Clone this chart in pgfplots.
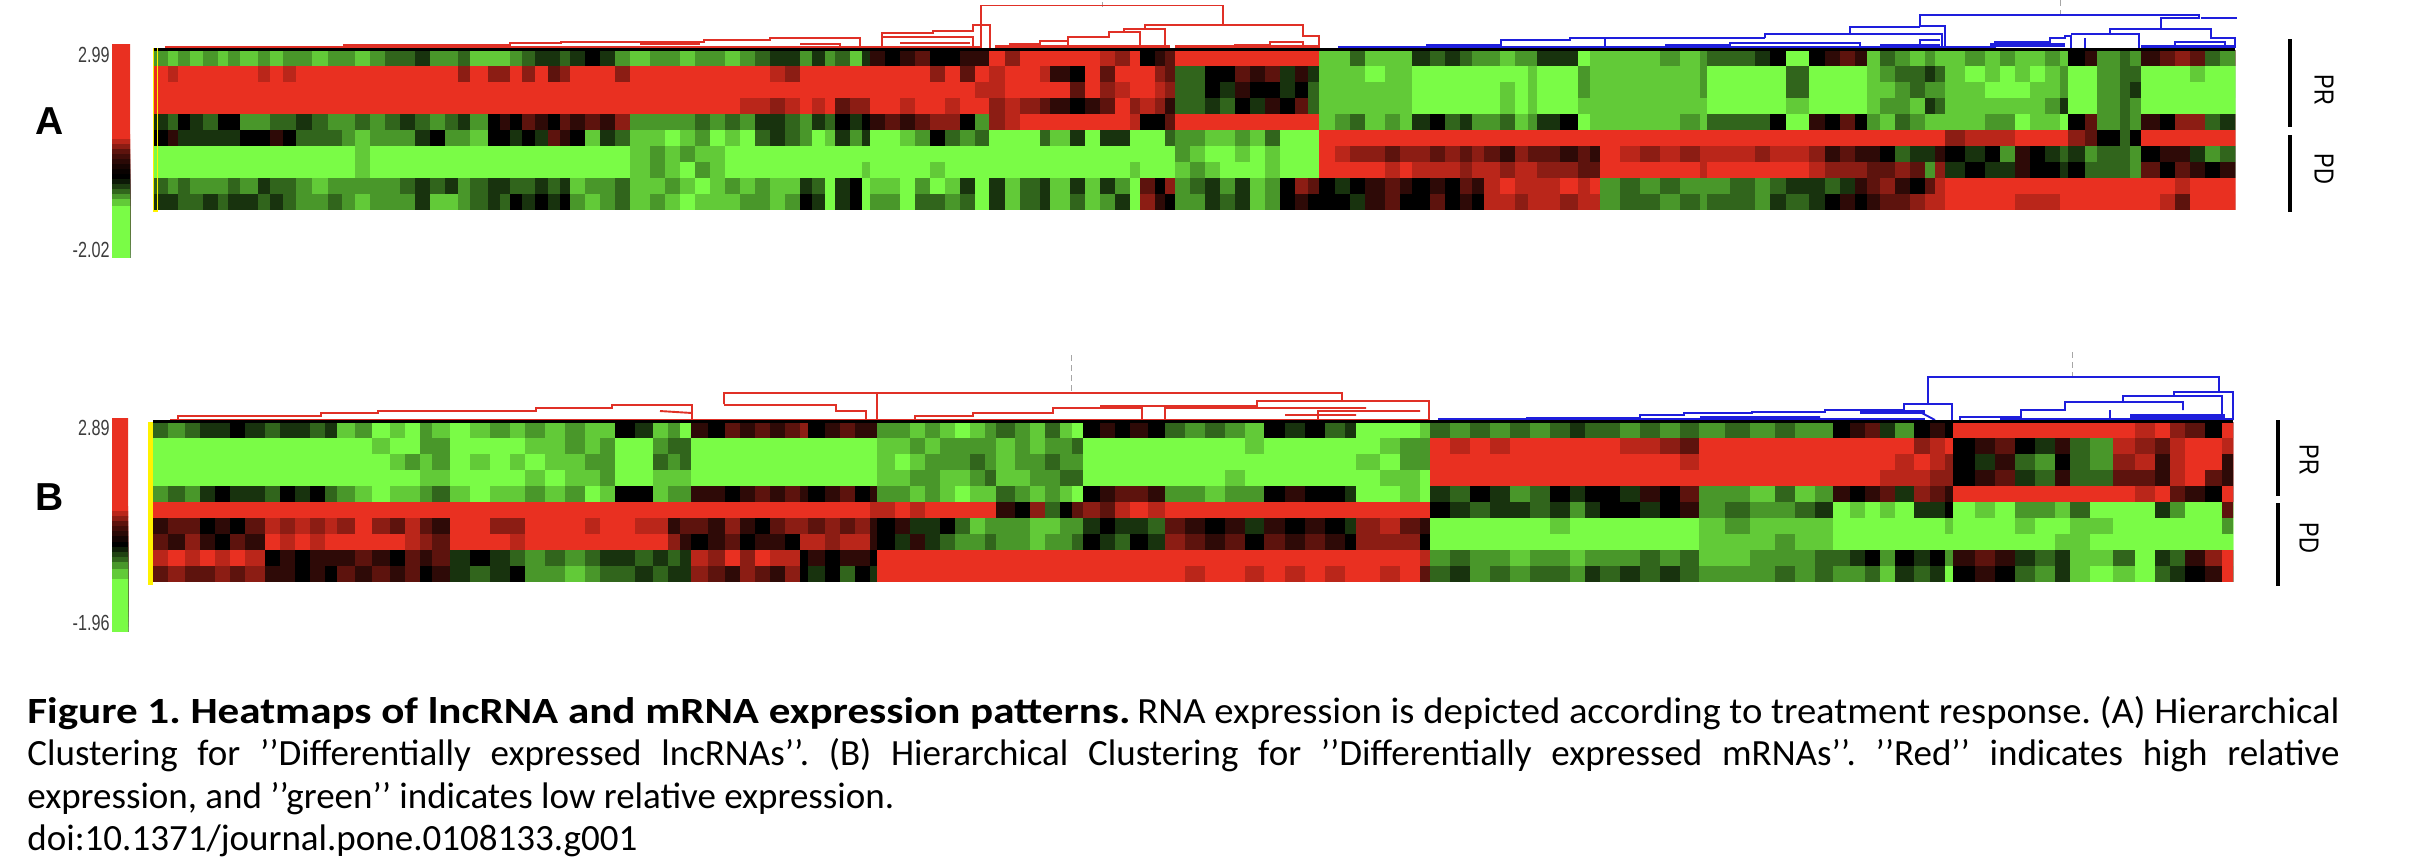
\documentclass[border=0pt]{standalone}
\usepackage{fontspec}
\setmainfont{Carlito}
\newfontfamily\labelfont{Liberation Sans}
\usepackage{pgfplots}
\usepackage{pgfplotstable}
\pgfplotsset{compat=1.18}
\definecolor{hmred}{RGB}{233,48,33}
\definecolor{hmgreen}{RGB}{122,252,70}
\definecolor{dred}{RGB}{224,48,38}
\definecolor{dblue}{RGB}{30,30,220}
\definecolor{barlab}{RGB}{60,60,60}

% one heatmap cell: runs on to the right, the next column paints over it
\pgfdeclareplotmark{heatcell}{\pgfpathrectangle{\pgfpoint{0pt}{-4.1pt}}{\pgfpoint{60pt}{8.2pt}}\pgfusepathqfill}
\pgfdeclareplotmark{barcell}{\pgfpathrectangle{\pgfpoint{0pt}{-50pt}}{\pgfpoint{12pt}{50.3pt}}\pgfusepathqfill}

\pgfplotsset{
  hm/.style={hide axis,scale only axis,y dir=reverse,clip marker paths=true,
    colormap={gbr}{color(0)=(hmgreen) color(0.5)=(black) color(1)=(hmred)},
    point meta min=-5,point meta max=5},
  heatrow/.style={scatter,only marks,mark=heatcell,point meta=explicit,scatter src=explicit},
  scalebar/.style={scatter,only marks,mark=barcell,point meta=explicit,scatter src=explicit},
  tree/.style={line width=0.95pt,unbounded coords=jump,line join=miter,no markers},
}

% x r1 .. r10 : left edge of a column in pixels, then the ten rows (-5 green, 0 black, 5 red)
\pgfplotstableread{
x r1 r2 r3 r4 r5 r6 r7 r8 r9 r10
153 -3 5 5 5 -1 0 -5 -5 -2 -1
168 -4 4 5 5 -2 1 -5 -5 -3 -1
178 -3 5 5 5 0 -1 -5 -5 -2 -2
190 -4 5 5 5 -1 -1 -5 -5 -3 -2
203 -3 5 5 5 -2 -1 -5 -5 -3 -1
218 -4 5 5 5 0 -1 -5 -5 -3 -2
228 -3 5 5 5 0 -1 -5 -5 -2 -1
240 -4 5 5 5 -3 0 -5 -5 -3 -1
258 -3 4 5 5 -3 0 -5 -5 -1 -2
270 -4 5 5 5 -2 1 -5 -5 -2 -1
283 -3 4 5 5 -2 0 -5 -5 -2 -2
296 -3 5 5 5 -1 -2 -5 -5 -3 -3
312 -4 5 5 5 -2 -2 -5 -5 -4 -3
328 -3 5 5 5 -3 -2 -5 -5 -3 -2
342 -3 5 5 5 -3 -3 -5 -5 -3 -3
355 -4 5 5 5 -2 -4 -4 -4 -3 -4
370 -3 5 5 5 -3 -3 -5 -5 -3 -3
385 -2 5 5 5 -2 -3 -5 -5 -3 -3
400 -2 5 5 5 -1 -3 -5 -5 -2 -3
415 -1 5 5 5 -2 -1 -5 -5 -1 -1
430 -3 5 5 5 -3 0 -5 -5 -2 -4
445 -3 5 5 5 -2 -3 -5 -5 -1 -4
458 -2 3 5 5 -1 -3 -5 -5 -3 -3
470 -4 5 5 5 -3 -4 -5 -5 -2 -2
488 -4 3 5 5 0 0 -5 -5 -1 -1
500 -4 3 5 5 1 0 -5 -5 -1 -2
510 -3 5 5 5 0 -1 -5 -5 -2 0
522 -2 3 5 5 2 0 -5 -5 -2 -1
535 -1 5 5 5 1 -1 -5 -5 -1 0
548 -1 2 5 5 0 2 -5 -5 -2 -1
560 -2 3 5 5 2 1 -5 -5 -1 0
570 -1 5 5 5 1 0 -5 -5 -4 -3
585 0 5 5 5 2 -4 -5 -5 -3 -4
600 -1 5 5 5 1 -1 -5 -5 -3 -3
615 -3 3 5 5 3 -2 -5 -5 -2 -2
630 -4 5 5 5 -3 -4 -4 -4 -4 -4
650 -3 5 5 5 -3 -4 -3 -3 -4 -3
665 -3 5 5 5 -3 -5 -4 -4 -3 -4
680 -4 5 5 5 -3 -4 -3 -5 -4 -5
695 -3 5 5 5 -2 -3 -4 -3 -5 -4
710 -3 5 5 5 -3 -5 -4 -4 -4 -4
725 -4 5 5 5 -2 -4 -5 -5 -3 -4
740 -3 5 5 4 -3 -5 -5 -5 -4 -3
755 -2 5 5 4 -1 -2 -5 -5 -3 -3
770 -1 4 5 3 -1 -1 -5 -5 -4 -4
785 -1 3 5 4 -2 -2 -5 -5 -4 -3
800 -3 5 5 5 -3 -3 -5 -5 -1 0
812 -1 5 5 4 -1 -5 -5 -5 -2 -1
825 -3 5 5 5 -2 -4 -5 -5 -5 -5
835 -2 5 5 2 0 -1 -5 -5 -1 -1
850 -4 5 5 3 -1 -3 -5 -5 0 0
862 -1 5 5 3 0 -1 -5 -4 -5 -5
870 1 5 5 5 1 -5 -5 -5 -4 -3
885 0 5 5 5 2 -5 -5 -5 -4 -3
900 1 5 5 4 1 -4 -5 -5 -5 -5
915 2 5 5 5 2 -3 -5 -5 -3 -2
930 0 3 5 5 3 0 -5 -4 -5 -2
945 0 5 5 4 3 -2 -5 -5 -4 -3
960 1 2 5 5 0 -3 -5 -5 -1 -2
975 1 5 4 5 -3 -2 -5 -5 -5 -5
989 5 4 4 3 3 -5 -5 -5 -1 -1
1005 3 5 5 4 4 -5 -5 -5 -4 -4
1020 5 5 5 3 5 -5 -5 -5 -2 -2
1040 5 4 5 2 5 -2 -5 -5 -1 -1
1050 5 1 5 1 5 -4 -5 -5 -4 -4
1070 5 0 2 0 5 -1 -5 -5 -1 -2
1085 5 5 5 1 5 -5 -5 -5 -4 -4
1100 4 2 3 2 5 -1 -5 -5 -1 -3
1115 3 5 4 5 5 -1 -5 -5 -3 -1
1130 5 5 5 3 4 -5 -5 -4 -5 -5
1140 0 5 5 4 0 -5 -5 -5 2 3
1155 1 3 4 3 0 -5 -5 -5 0 1
1165 2 2 3 1 2 -2 -5 -5 3 0
1175 5 -2 -2 -2 5 -3 -3 -4 -3 -3
1190 5 -2 -2 -2 5 -3 -4 -3 -2 -3
1205 5 0 0 -1 5 -4 -5 -4 -1 -1
1220 5 0 -1 -2 5 -4 -5 -5 -3 -2
1235 5 2 1 0 5 -3 -4 -5 -1 -1
1250 5 1 0 -1 5 -4 -5 -5 -4 -4
1265 5 2 0 1 5 -2 -4 -4 -3 -3
1280 5 -1 -1 0 5 -5 -5 -5 0 0
1295 5 1 0 2 5 -5 -5 -5 3 1
1308 5 -1 -2 -2 5 -5 -5 -5 2 0
1319 -4 -4 -4 -4 -4 5 5 5 0 0
1335 -4 -4 -4 -4 -3 5 4 5 -1 0
1350 -2 -4 -4 -4 -2 5 3 5 0 -1
1365 -4 -5 -4 -4 -4 5 3 5 1 1
1385 -4 -4 -4 -4 -3 5 2 4 2 2
1400 -4 -4 -4 -4 -4 5 3 5 1 0
1412 -1 -5 -5 -5 -1 5 3 4 0 0
1430 -2 -5 -5 -5 0 5 2 4 1 2
1445 -1 -5 -5 -5 -2 5 3 4 0 0
1460 -2 -5 -5 -5 -1 5 2 3 2 1
1472 -3 -5 -5 -5 -3 5 3 4 1 0
1484 -3 -5 -5 -5 -3 5 2 4 4 4
1500 -4 -5 -4 -4 -2 5 1 3 5 4
1515 -3 -5 -5 -5 -4 5 3 4 4 3
1528 -3 -4 -4 -4 -3 5 2 4 4 4
1537 -1 -5 -5 -5 -1 5 2 3 4 4
1560 -1 -5 -5 -5 0 5 1 3 5 3
1578 -5 -3 -3 -4 -5 5 2 2 4 4
1590 -4 -4 -4 -4 -4 5 1 2 5 4
1600 -4 -4 -4 -4 -4 5 5 5 -3 -3
1620 -4 -4 -4 -4 -4 5 4 5 -2 -2
1640 -4 -4 -4 -4 -4 5 3 5 -3 -2
1660 -3 -4 -4 -4 -4 5 4 5 -2 -3
1680 -4 -4 -4 -4 -3 5 3 5 -3 -2
1700 -3 -3 -3 -4 -4 5 4 4 -3 -3
1707 -2 -5 -5 -5 -2 5 4 5 -3 -2
1730 -2 -5 -5 -5 -2 5 4 5 -2 -2
1755 -1 -5 -5 -5 -2 5 3 5 -3 -3
1770 0 -5 -5 -5 0 5 4 5 -2 -1
1786 -5 -2 -2 -4 -5 5 4 5 -1 -2
1809 0 -5 -5 -5 1 5 3 4 -1 -1
1825 1 -5 -5 -5 0 5 1 3 -2 0
1840 2 -5 -5 -5 2 5 2 3 -1 1
1855 1 -5 -5 -5 0 5 1 3 1 0
1867 -4 -4 -4 -4 -3 5 1 2 2 1
1880 -2 -3 -4 -3 -4 5 0 2 3 2
1895 -3 -2 -3 -3 -2 5 -2 3 1 2
1910 -4 -2 -2 -4 -3 5 -1 2 0 3
1925 -3 -1 -3 -1 -4 5 -1 -3 2 4
1935 -4 -2 -3 -2 -4 5 1 3 4 4
1945 -4 -4 -4 -4 -4 3 0 -1 5 5
1965 -3 -5 -4 -4 -4 4 -1 0 5 5
1985 -4 -4 -5 -4 -3 4 0 -1 5 5
2000 -3 -5 -5 -4 -3 4 -3 -1 5 5
2015 -4 -4 -5 -4 -5 5 1 1 5 4
2030 -4 -5 -4 -4 -4 5 0 0 5 4
2045 -3 -4 -4 -3 -4 5 -1 0 5 4
2060 -4 -3 -3 -1 -5 5 -2 -1 5 5
2068 0 -5 -5 -5 0 3 -1 0 5 5
2085 1 -5 -5 -5 2 2 -3 -2 5 5
2097 -3 -3 -3 -3 -3 0 -2 -2 5 5
2120 -2 -2 -2 -2 -2 -2 -2 -2 5 5
2130 -3 -2 -1 -3 -3 0 -3 -3 5 5
2141 1 -5 -5 -5 1 5 0 2 5 5
2160 2 -5 -5 -5 0 5 1 0 5 4
2175 3 -5 -5 -5 3 5 1 2 4 2
2190 2 -4 -5 -5 3 5 -1 1 5 5
2205 -2 -5 -5 -5 -2 5 -3 0 5 5
2220 -3 -5 -5 -5 -1 5 -2 1 5 5
}\heatA

\pgfplotstableread{
x r1 r2 r3 r4 r5 r6 r7 r8 r9 r10
153 -2 -5 -5 -5 -3 5 1 2 4 2
168 -3 -5 -5 -5 -2 5 2 1 5 3
185 -2 -5 -5 -5 -3 5 2 3 4 2
200 -1 -5 -5 -5 -1 5 0 1 5 2
215 -1 -5 -5 -5 0 5 1 0 4 3
230 0 -5 -5 -5 -1 5 0 2 5 2
245 -1 -5 -5 -5 -1 5 2 1 4 3
265 -2 -5 -5 -5 -2 5 4 5 0 1
280 -1 -5 -5 -5 0 5 3 4 1 1
295 -1 -5 -5 -5 -1 5 4 5 0 0
310 -2 -5 -5 -5 0 5 3 4 1 1
325 -1 -5 -5 -5 -2 5 4 5 1 0
337 -4 -5 -5 -5 -3 5 3 5 1 2
355 -3 -5 -5 -5 -4 5 5 5 2 1
372 -5 -4 -5 -5 -5 5 3 5 1 2
390 -4 -5 -4 -5 -4 5 2 5 0 1
405 -5 -5 -3 -5 -4 5 4 4 2 2
420 -3 -3 -4 -4 -3 5 2 3 1 0
432 -4 -3 -3 -4 -2 5 1 2 2 1
450 -5 -5 -5 -5 -4 5 5 5 -1 -1
470 -4 -5 -4 -5 -5 5 5 5 0 -2
490 -3 -5 -5 -5 -4 5 3 5 -1 -1
510 -4 -5 -4 -5 -4 5 3 4 -2 0
525 -3 -4 -5 -4 -3 5 5 5 -3 -3
545 -4 -4 -4 -5 -4 5 5 5 -2 -3
565 -3 -3 -4 -4 -3 5 5 5 -3 -4
585 -4 -4 -3 -4 -5 5 4 5 -2 -3
600 -4 -3 -3 -3 -4 5 5 5 -1 -2
615 0 -5 -5 -5 0 5 5 5 -1 -2
635 -1 -5 -5 -5 0 5 4 5 -2 -1
653 -4 -3 -2 -4 -4 5 4 5 -1 -2
668 -3 -2 -3 -4 -3 5 1 3 -2 -1
680 -5 -2 -2 -4 -3 5 2 1 -1 -1
691 1 -5 -5 -5 1 5 2 0 4 3
708 0 -5 -5 -5 1 5 1 1 3 2
725 2 -5 -5 -5 0 5 3 2 5 1
740 1 -5 -5 -5 1 5 1 0 3 3
755 2 -5 -5 -5 2 5 0 1 5 2
770 1 -5 -5 -5 1 5 2 1 4 1
785 2 -5 -5 -5 2 5 3 0 4 3
800 3 -5 -5 -5 1 5 3 4 0 0
808 0 -5 -5 -5 0 5 2 4 1 -1
825 1 -5 -5 -5 1 5 3 3 0 0
840 2 -5 -5 -5 2 5 2 4 1 -2
855 1 -5 -5 -5 0 5 3 4 1 0
870 1 -5 -5 -5 1 4 1 1 0 -1
877 -3 -4 -4 -4 -3 4 0 0 5 5
895 -3 -4 -5 -4 -3 5 1 -1 5 5
910 -4 -3 -4 -3 -4 4 -1 1 5 5
925 -3 -4 -3 -3 -3 5 -1 -1 5 5
940 -4 -3 -3 -4 -4 5 0 -2 5 5
955 -5 -3 -3 -4 -5 5 -2 -3 5 5
970 -4 -3 -2 -3 -4 5 -4 -3 5 5
985 -3 -3 -3 -2 -4 5 -3 -2 5 5
996 -2 -4 -4 -4 -2 1 -3 -3 5 5
1015 -3 -3 -3 -4 -3 0 -3 -3 5 5
1030 -4 -4 -3 -3 -4 3 -4 -4 5 5
1045 -2 -3 -2 -3 -3 -2 -4 -3 5 5
1060 -4 -3 -3 -2 -4 0 -3 -3 5 5
1072 -5 -2 -3 -2 -5 2 -3 -2 5 5
1083 0 -5 -5 -5 0 3 -1 0 5 5
1100 1 -5 -5 -5 1 2 0 -1 5 5
1115 0 -5 -5 -5 2 4 -1 -2 5 5
1130 1 -5 -5 -5 2 5 -1 0 5 5
1148 0 -5 -5 -5 1 4 -2 -1 5 5
1165 -2 -5 -5 -5 -3 5 2 3 5 5
1185 -3 -5 -5 -5 -3 5 1 2 5 4
1205 -2 -5 -5 -5 -4 5 0 1 5 5
1225 -3 -5 -5 -4 -3 5 1 2 5 5
1245 -4 -4 -5 -5 -3 5 -1 0 5 4
1264 0 -5 -5 -5 0 5 1 2 5 5
1285 -1 -5 -5 -5 1 5 0 1 5 4
1305 0 -5 -5 -5 0 5 1 2 5 5
1325 -2 -5 -5 -5 0 5 0 1 5 4
1345 -1 -5 -5 -5 -1 5 -1 0 5 5
1356 -5 -5 -4 -5 -5 5 3 3 5 5
1380 -5 -4 -5 -4 -5 5 4 3 5 4
1400 -5 -3 -3 -4 -4 5 2 3 5 5
1420 -4 -3 -3 -5 -5 5 1 0 4 2
1430 -2 5 5 5 -1 0 -5 -5 -3 -2
1450 -3 4 5 5 -2 -1 -5 -5 -2 -1
1470 -2 5 5 5 0 -2 -5 -5 -3 -3
1490 -3 4 5 5 -1 -1 -5 -5 -3 -2
1510 -2 5 5 5 -3 -1 -5 -5 -4 -3
1530 -3 5 5 5 -2 -2 -5 -5 -3 -2
1550 -2 5 5 5 0 -1 -4 -5 -3 -2
1570 -1 5 5 5 -1 -3 -5 -5 -4 -3
1585 -2 5 5 5 0 -1 -5 -5 -3 -1
1600 -2 5 5 5 0 0 -5 -5 -3 -2
1620 -3 4 5 5 -1 0 -5 -5 -3 -1
1640 -2 4 5 5 1 -1 -5 -5 -2 -2
1660 -3 3 5 5 0 0 -5 -5 -3 -1
1680 -2 2 4 5 2 1 -5 -5 -2 -2
1699 -3 5 5 5 -3 -3 -4 -4 -4 -3
1725 -2 5 5 5 -3 -2 -3 -4 -4 -3
1750 -3 5 5 5 -4 -3 -4 -4 -3 -3
1775 -2 5 5 5 -2 -3 -4 -3 -3 -2
1795 -3 5 5 5 -4 -2 -4 -4 -3 -3
1815 -3 5 5 5 -3 -1 -4 -4 -2 -2
1833 0 5 5 5 1 -5 -5 -5 -2 -3
1850 1 5 5 5 0 -4 -5 -5 -1 -3
1865 2 5 5 5 1 -5 -5 -5 0 -2
1880 -1 5 5 4 2 -4 -5 -5 -3 -4
1895 -3 5 4 4 -1 -5 -5 -5 0 -1
1914 0 3 5 4 3 -1 -5 -5 -1 -2
1930 1 4 4 3 2 -1 -5 -5 0 -1
1945 0 5 3 3 1 0 -4 -5 -3 -5
1953 5 0 0 0 5 -5 -5 -5 1 0
1975 5 1 -1 1 5 -4 -5 -5 2 1
1995 5 2 1 2 5 -5 -5 -5 1 0
2015 5 0 -2 -1 5 -3 -4 -5 -1 -2
2035 5 -1 -3 -2 5 -3 -5 -5 -2 -3
2055 5 1 0 1 5 -4 -5 -4 -1 -1
2070 5 -2 -2 -2 5 -2 -4 -4 -4 -4
2090 5 -3 -3 -2 5 -5 -4 -5 -4 -5
2113 5 4 3 2 5 -5 -5 -5 -2 -4
2135 4 3 4 2 4 -5 -5 -5 -5 -5
2155 5 2 1 1 5 -1 -5 -5 -1 -2
2170 3 4 4 4 2 -3 -5 -5 -2 -1
2185 2 5 5 5 1 -5 -5 -5 1 0
2205 0 5 5 2 0 -5 -5 -5 3 1
2222 5 4 1 1 5 2 -3 -5 5 5
}\heatB

% y v : colour scale, each step covers down to the next
\pgfplotstableread{
y v
44 5
135 5
140 4
145 3
150 2
155 1.4
160 0.9
165 0.5
170 0.2
175 0
180 -0.5
185 -1.2
190 -2
195 -3
200 -4
207 -5
}\scaleA
\pgfplotstableread{
y v
418 5
507 5
512 4
517 3
522 2
527 1.4
532 0.9
537 0.4
543 0
548 -0.6
553 -1.3
558 -2
563 -3
570 -4
580 -5
}\scaleB

\begin{document}
\begin{tikzpicture}
\useasboundingbox (0,0) rectangle (1210pt,-432pt);

% panel A
\begin{axis}[hm,at={(56pt,-22pt)},anchor=north west,width=9pt,height=106.5pt,
  xmin=112,xmax=130,ymin=44,ymax=257]
\addplot[scalebar] table[x expr=112,y=y,meta=v]{\scaleA};
\end{axis}
\begin{axis}[hm,at={(76.5pt,-25pt)},anchor=north west,width=1041pt,height=80pt,
  xmin=153,xmax=2235,ymin=50,ymax=210]
\pgfplotsinvokeforeach{1,...,10}{
  \addplot[heatrow] table[x=x,y expr={42+16*#1},meta=r#1]{\heatA};
}
\end{axis}

% panel B
\begin{axis}[hm,at={(56pt,-209pt)},anchor=north west,width=8pt,height=106.5pt,
  xmin=112,xmax=128,ymin=418,ymax=631]
\addplot[scalebar] table[x expr=112,y=y,meta=v]{\scaleB};
\end{axis}
\begin{axis}[hm,at={(76.5pt,-211pt)},anchor=north west,width=1040pt,height=80pt,
  xmin=153,xmax=2233,ymin=422,ymax=582]
\pgfplotsinvokeforeach{1,...,10}{
  \addplot[heatrow] table[x=x,y expr={414+16*#1},meta=r#1]{\heatB};
}
\end{axis}

% trees, bars and text on a page-sized axis in pixel coordinates
\begin{axis}[at={(0pt,0pt)},anchor=north west,scale only axis,width=1210pt,height=432pt,
  xmin=0,xmax=2420,ymin=0,ymax=864,y dir=reverse,hide axis,clip=false]

% dashed grey cut marks
\addplot[gray!70,densely dashed,line width=0.4pt,no markers,unbounded coords=jump] coordinates {
  (1102,2)(1102,7) (nan,nan) (2060,0)(2060,16) (nan,nan)
  (1071,355)(1071,393) (nan,nan) (2072,352)(2072,378)};

% dendrogram A, red
\addplot[tree,dred] coordinates {
  (981,48)(981,5.5)(1223,5.5)(1223,25) (nan,nan)
  (1145,29)(1145,25)(1303,25)(1303,36)(1319,36)(1319,48) (nan,nan)
  (1124,32)(1124,29)(1165,29)(1165,48) (nan,nan)
  (1068,41)(1068,37)(1109,37)(1109,32)(1140,32)(1140,48) (nan,nan)
  (1010,47)(1010,44)(1040,44)(1040,41)(1068,41)(1068,48) (nan,nan)
  (1190,47)(1235,47)(1235,45)(1270,45)(1270,42)(1303,42)(1303,48) (nan,nan)
  (882,48)(882,33)(933,33)(933,31)(973,31)(973,25)(990,25)(990,48) (nan,nan)
  (165,47)(344,47)(344,45)(510,45)(510,43)(561,43)(561,42)(704,42)(704,40)(770,40)(770,38)(860,38)(860,47) (nan,nan)
  (800,44)(840,44)(840,48) (nan,nan) (882,37)(973,37)(973,48) (nan,nan)
  (640,44)(700,44) (nan,nan) (900,43)(970,43)};
% dendrogram A, blue
\addplot[tree,dblue] coordinates {
  (1945,48)(1945,26)(1920,26)(1920,15)(2199,15)(2199,18)(2161,18)(2161,28) (nan,nan)
  (2201,18)(2237,18) (nan,nan)
  (2110,34)(2110,29)(2211,29)(2211,38)(2235,38)(2235,48) (nan,nan)
  (2071,34)(2139,34)(2139,48) (nan,nan)
  (1850,34)(1850,27)(1920,27) (nan,nan)
  (1765,38)(1765,34)(1942,34)(1942,48) (nan,nan)
  (1338,47)(1427,47)(1427,45)(1501,45)(1501,40)(1570,40)(1570,38)(1765,38) (nan,nan)
  (1605,38)(1605,48) (nan,nan) (1665,45)(1730,45)(1730,43)(1860,43)(1860,48) (nan,nan)
  (1880,46)(1920,46)(1920,40)(1940,40) (nan,nan)
  (1950,47)(1995,47)(1995,42)(2050,42)(2050,38)(2065,38)(2065,36)(2071,36)(2071,48) (nan,nan)
  (2085,38)(2085,48) (nan,nan) (2141,47)(2175,47)(2175,42)(2225,42)(2225,48)};
\addplot[dblue,line width=2.2pt,no markers,unbounded coords=jump] coordinates {
  (1338,48)(1950,48) (nan,nan) (2141,47)(2235,47) (nan,nan) (1990,45)(2065,45) (nan,nan) (1880,46)(1940,46)};
\addplot[dred,line width=1.6pt,no markers,unbounded coords=jump] coordinates {
  (165,48)(980,48) (nan,nan) (995,47)(1170,47) (nan,nan) (1175,47)(1319,47)};

% dendrogram B, red
\addplot[tree,dred] coordinates {
  (724,404)(724,393)(1342,393)(1342,401) (nan,nan)
  (877,393)(877,420) (nan,nan)
  (1429,420)(1429,401)(1257,401)(1257,406)(1101,406)(1101,408) (nan,nan)
  (1142,420)(1142,408)(1053,408)(1053,413)(973,413)(973,416)(915,416)(915,420) (nan,nan)
  (1165,420)(1165,408)(1366,408) (nan,nan)
  (1318,420)(1318,411)(1420,411) (nan,nan)
  (1285,415)(1356,415) (nan,nan)
  (178,420)(178,416)(321,416)(321,413)(378,413)(378,411)(536,411)(536,408)(612,408)(612,405)(692,405)(692,420) (nan,nan)
  (660,411)(692,413) (nan,nan)
  (724,405)(800,405)(836,405)(836,411)(866,411)(866,420)};
% dendrogram B, blue
\addplot[tree,dblue] coordinates {
  (1952,420)(1952,404)(1928,404)(1928,377)(2219,377)(2219,392) (nan,nan)
  (2233,420)(2233,392)(2174,392)(2174,396) (nan,nan)
  (2222,420)(2222,396)(2123,396)(2123,402) (nan,nan)
  (2183,410)(2183,402)(2065,402)(2065,410)(2021,410)(2021,417)(1960,417)(1960,420) (nan,nan)
  (2110,420)(2110,410) (nan,nan)
  (1928,404)(1904,404)(1904,410)(1825,410)(1825,412)(1752,412)(1752,413)(1684,413)(1684,415)(1640,415)(1640,418)(1527,418)(1527,420)(1440,420) (nan,nan)
  (1700,417)(1820,417) (nan,nan) (1920,412)(1935,420) (nan,nan) (2160,415)(2215,415)};
\addplot[dblue,line width=1.6pt,no markers,unbounded coords=jump] coordinates {
  (1438,420)(1925,420) (nan,nan) (2000,420)(2233,420) (nan,nan) (1860,412)(1925,412) (nan,nan) (2130,416)(2225,416)};
\addplot[dred,line width=1pt,no markers,unbounded coords=jump] coordinates {
  (170,420)(1430,420)};

% baselines on top of each heatmap
\addplot[black,line width=1.3pt,no markers] coordinates {(153,49.5)(2235,49.5)};
\addplot[black,line width=1.3pt,no markers] coordinates {(153,421.5)(2233,421.5)};

% yellow marks at the left of the heatmaps
\addplot[yellow,line width=0.7pt,no markers] coordinates {(153.5,48)(153.5,211)(157.5,211)(157.5,48)};
\addplot[yellow,line width=2.4pt,no markers] coordinates {(150.5,422)(150.5,585)};

% PR / PD bars
\addplot[black,line width=2.2pt,no markers,unbounded coords=jump] coordinates {
  (2290,39)(2290,127) (nan,nan) (2290,135)(2290,212) (nan,nan)
  (2278,420)(2278,496) (nan,nan) (2278,503)(2278,586)};

\node[font=\labelfont\bfseries\fontsize{19.5}{20}\selectfont] at (50,121) {A};
\node[font=\labelfont\bfseries\fontsize{19.5}{20}\selectfont] at (50,497) {B};

\tikzset{scalelab/.style={font=\labelfont\fontsize{8.1}{9}\selectfont,text=barlab,inner sep=0pt,anchor=east}}
\node[scalelab] at (110,55) {\scalebox{1}[1.35]{2.99}};
\node[scalelab] at (110,250) {\scalebox{1}[1.35]{-2.02}};
\node[scalelab] at (110,428) {\scalebox{1}[1.35]{2.89}};
\node[scalelab] at (110,623) {\scalebox{1}[1.35]{-1.96}};

\tikzset{grp/.style={font=\labelfont\fontsize{11}{12}\selectfont,rotate=-90,inner sep=0pt}}
\node[grp] at (2324,90) {\scalebox{1}[1.25]{PR}};
\node[grp] at (2324,169) {\scalebox{1}[1.25]{PD}};
\node[grp] at (2309,460) {\scalebox{1}[1.25]{PR}};
\node[grp] at (2309,538) {\scalebox{1}[1.25]{PD}};

\tikzset{captext/.style={font=\frenchspacing\fontsize{18.5}{21}\selectfont,inner sep=0pt,anchor=base west}}
\node[captext] at (27,723) {\resizebox{551.5pt}{\height}{\textbf{Figure 1. Heatmaps of lncRNA and mRNA expression patterns.}}};
\node[captext] at (1137,723) {\resizebox{601pt}{\height}{RNA expression is depicted according to treatment response. (A) Hierarchical}};
\node[captext] at (27,765) {\makebox[1156pt][s]{Clustering for '{}'Differentially expressed lncRNAs'{}'. (B) Hierarchical Clustering for '{}'Differentially expressed mRNAs'{}'. '{}'Red'{}' indicates high relative}};
\node[captext] at (27,808) {expression, and '{}'green'{}' indicates low relative expression.};
\node[captext] at (27,850) {doi:10.1371/journal.pone.0108133.g001};
\end{axis}
\end{tikzpicture}
\end{document}
